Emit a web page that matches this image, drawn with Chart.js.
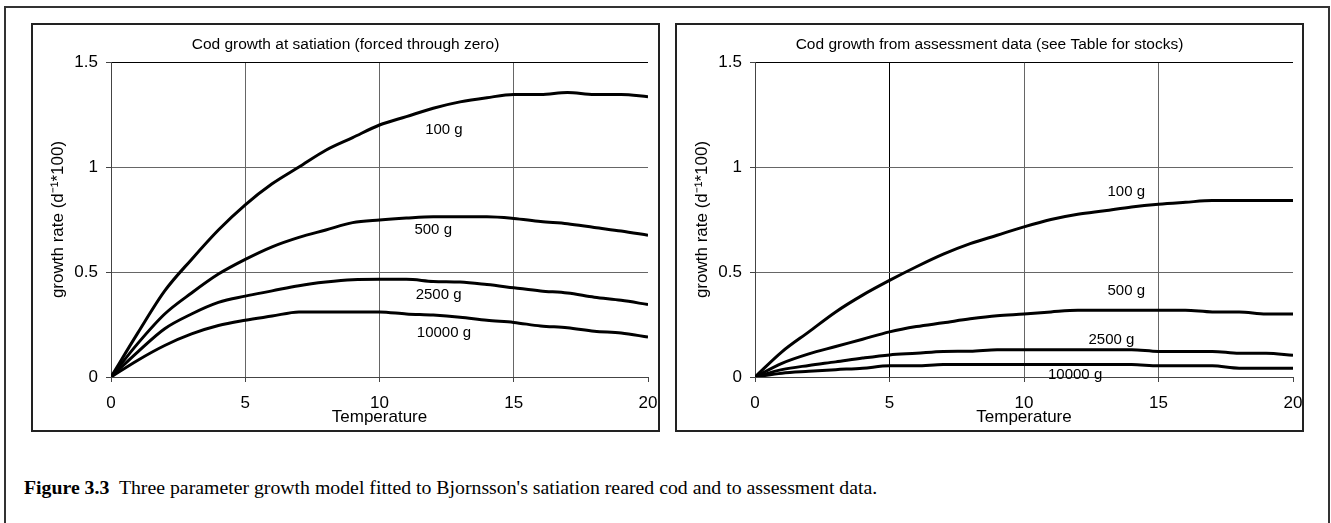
<!DOCTYPE html>
<html>
<head>
<meta charset="utf-8">
<script src="https://cdn.jsdelivr.net/npm/chart.js@4.4.1/dist/chart.umd.min.js"></script>
<style>
  body { margin: 0; background: #fff; width: 1331px; height: 523px; overflow: hidden; position: relative; }
  .outer { position: absolute; left: 4px; top: 6px; width: 1326px; height: 600px; border: 2px solid #333; box-sizing: border-box; }
  .box { position: absolute; top: 23px; width: 629px; height: 409px; border: 2px solid #222; box-sizing: border-box; }
  .box canvas { display: block; }
  .caption { position: absolute; left: 24px; top: 475px; font: 19.8px "Liberation Serif", "Times New Roman", serif; line-height: 24px; color: #000; white-space: nowrap; }
</style>
</head>
<body>
<div class="outer"></div>
<div class="box" style="left:31px"><canvas id="satChart" width="625" height="405"></canvas></div>
<div class="box" style="left:675px"><canvas id="assessChart" width="625" height="405"></canvas></div>
<div class="caption"><b>Figure 3.3</b>&nbsp; Three parameter growth model fitted to Bjornsson's satiation reared cod and to assessment data.</div>

<script>
// temperatura (oś X)
const temperature = [0, 1, 2, 3, 4, 5, 6, 7, 8, 9, 10, 11, 12, 13, 14, 15, 16, 17, 18, 19, 20];
const sizeLabels = ['100 g', '500 g', '2500 g', '10000 g'];

// wykres lewy - wzrost przy nasyceniu
const sat100 = [0, 0.21, 0.41, 0.56, 0.70, 0.82, 0.92, 1.00, 1.08, 1.14, 1.20, 1.24, 1.28, 1.31, 1.33, 1.345, 1.345, 1.355, 1.345, 1.345, 1.335];
const sat500 = [0, 0.16, 0.30, 0.40, 0.49, 0.56, 0.62, 0.665, 0.70, 0.735, 0.748, 0.757, 0.763, 0.763, 0.763, 0.755, 0.74, 0.73, 0.712, 0.695, 0.675];
const sat2500 = [0, 0.12, 0.23, 0.30, 0.355, 0.385, 0.41, 0.435, 0.452, 0.463, 0.465, 0.465, 0.455, 0.452, 0.44, 0.425, 0.41, 0.40, 0.38, 0.365, 0.345];
const sat10000 = [0, 0.08, 0.15, 0.205, 0.245, 0.27, 0.29, 0.31, 0.31, 0.31, 0.31, 0.30, 0.295, 0.285, 0.27, 0.26, 0.243, 0.235, 0.218, 0.21, 0.19];

// wykres prawy - dane z oceny stad
const ass100 = [0, 0.12, 0.215, 0.31, 0.39, 0.46, 0.525, 0.585, 0.635, 0.675, 0.715, 0.75, 0.775, 0.792, 0.81, 0.823, 0.832, 0.84, 0.84, 0.84, 0.84];
const ass500 = [0, 0.065, 0.11, 0.145, 0.18, 0.215, 0.24, 0.258, 0.277, 0.292, 0.30, 0.31, 0.318, 0.318, 0.318, 0.318, 0.318, 0.31, 0.31, 0.30, 0.30];
const ass2500 = [0, 0.035, 0.055, 0.072, 0.09, 0.105, 0.113, 0.122, 0.123, 0.13, 0.13, 0.13, 0.13, 0.13, 0.13, 0.122, 0.122, 0.122, 0.113, 0.113, 0.103];
const ass10000 = [0, 0.018, 0.027, 0.035, 0.042, 0.053, 0.053, 0.06, 0.06, 0.06, 0.06, 0.06, 0.06, 0.06, 0.06, 0.053, 0.053, 0.053, 0.042, 0.042, 0.042];

// pozycje etykiet na krzywych (w jednostkach danych)
const satLabelX = [12.4, 12.0, 12.2, 12.4];
const satLabelY = [1.176, 0.70, 0.39, 0.208];
const assLabelX = [13.8, 13.8, 13.25, 11.9];
const assLabelY = [0.882, 0.411, 0.176, 0.01];

const yTicks = [0, 0.5, 1, 1.5];
const xTicks = [0, 5, 10, 15, 20];

const FONT = '"Liberation Sans", Arial, sans-serif';

function toPoints(ys) {
    return temperature.map((t, i) => ({ x: t, y: ys[i] }));
}

// etykiety "100 g" itd. rysowane przez skale wykresu
const curveLabels = {
    id: 'curveLabels',
    afterDatasetsDraw(chart, args, opts) {
        const { ctx, scales: { x, y } } = chart;
        ctx.save();
        ctx.font = '15px ' + FONT;
        ctx.fillStyle = '#000';
        ctx.textAlign = 'center';
        ctx.textBaseline = 'middle';
        opts.labels.forEach((txt, i) => {
            ctx.fillText(txt, x.getPixelForValue(opts.xs[i]), y.getPixelForValue(opts.ys[i]));
        });
        ctx.restore();
    }
};

function drawGrowthChart(canvasId, title, series, labelXs, labelYs, darkX, padRight) {
    const ctx = document.getElementById(canvasId).getContext('2d');
    const datasets = series.map((ys, i) => ({
        label: sizeLabels[i],
        data: toPoints(ys),
        borderColor: '#000',
        borderWidth: 3,
        pointRadius: 0,
        showLine: true,
        fill: false,
        cubicInterpolationMode: 'monotone'
    }));

    return new Chart(ctx, {
        type: 'scatter',
        data: { datasets: datasets },
        options: {
            responsive: false,
            animation: false,
            devicePixelRatio: 1,
            layout: { padding: 0 },
            plugins: {
                legend: { display: false },
                tooltip: { enabled: false },
                title: {
                    display: true,
                    text: title,
                    color: '#000',
                    font: { family: FONT, size: 15.5, weight: 'normal' },
                    padding: { top: 10.7, bottom: 7.7 }
                },
                curveLabels: { labels: sizeLabels, xs: labelXs, ys: labelYs }
            },
            scales: {
                x: {
                    type: 'linear',
                    min: 0,
                    max: 20,
                    afterBuildTicks: (s) => { s.ticks = xTicks.map(v => ({ value: v })); },
                    afterFit: (s) => { s.height = 53; s.paddingLeft = 0; s.paddingRight = padRight; },
                    ticks: { color: '#000', font: { family: FONT, size: 17 }, padding: 10.8, maxRotation: 0, callback: (v) => String(v) },
                    grid: {
                        color: (c) => c.tick.value === 20 ? 'rgba(0,0,0,0)' : (c.tick.value === darkX ? '#000' : '#666'),
                        tickColor: '#444',
                        tickLength: 5,
                        lineWidth: 1
                    },
                    border: { color: '#444', width: 1 },
                    title: {
                        display: true,
                        text: 'Temperature',
                        color: '#000',
                        font: { family: FONT, size: 17 },
                        padding: { top: 0, bottom: 2.8 }
                    }
                },
                y: {
                    type: 'linear',
                    min: 0,
                    max: 1.5,
                    afterBuildTicks: (s) => { s.ticks = yTicks.map(v => ({ value: v })); },
                    afterFit: (s) => { s.width = 78; s.paddingTop = 0; s.paddingBottom = 0; },
                    ticks: { color: '#000', font: { family: FONT, size: 17 }, padding: 8, callback: (v) => String(v) },
                    grid: {
                        color: (c) => c.tick.value === 1.5 ? '#000' : '#666',
                        tickColor: '#444',
                        tickLength: 5,
                        lineWidth: 1
                    },
                    border: { color: '#444', width: 1 },
                    title: {
                        display: true,
                        text: 'growth rate (d⁻¹*100)',
                        color: '#000',
                        font: { family: FONT, size: 17 },
                        padding: { top: 14.8, bottom: 0 }
                    }
                }
            }
        },
        plugins: [curveLabels]
    });
}

drawGrowthChart('satChart', 'Cod growth at satiation (forced through zero)',
    [sat100, sat500, sat2500, sat10000], satLabelX, satLabelY, null, 10);
drawGrowthChart('assessChart', 'Cod growth from assessment data (see Table for stocks)',
    [ass100, ass500, ass2500, ass10000], assLabelX, assLabelY, 5, 9);
</script>
</body>
</html>
